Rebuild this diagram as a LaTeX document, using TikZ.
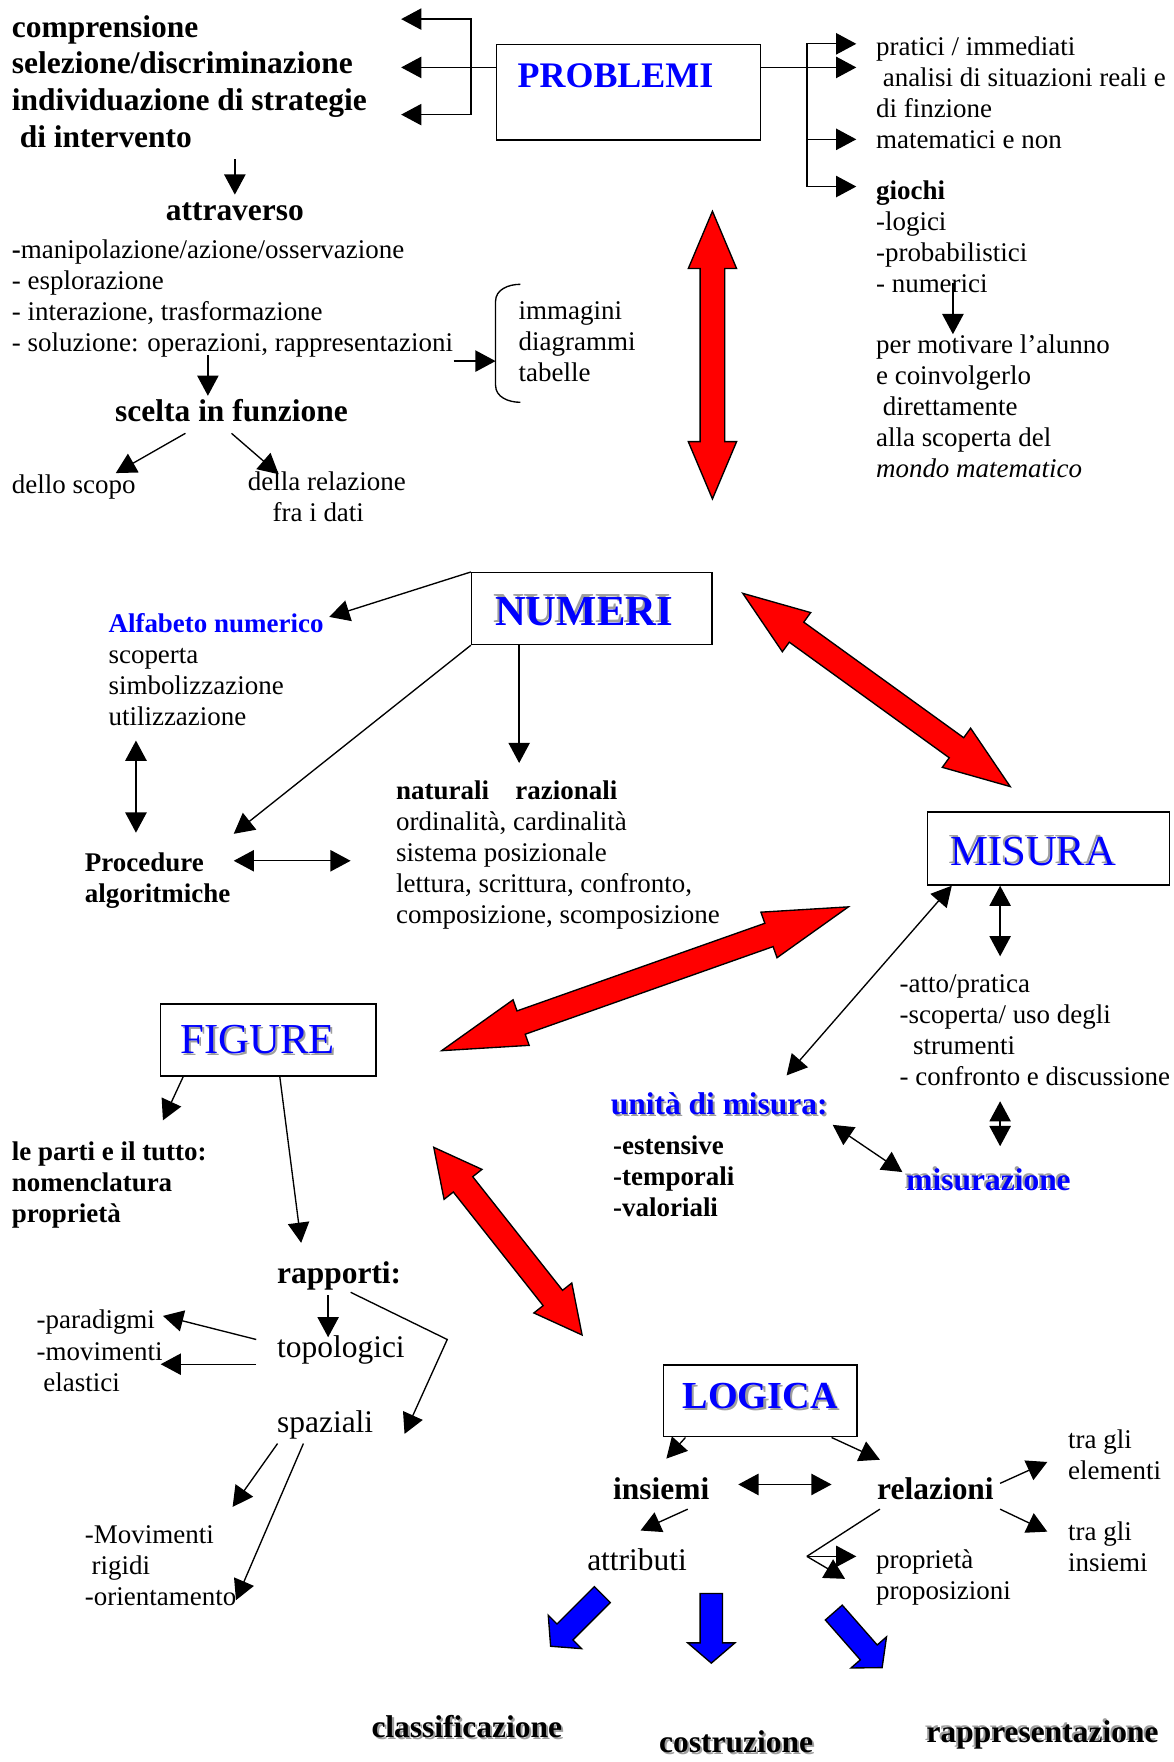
\documentclass[tikz,border=0pt]{standalone}
\usepackage{fontspec}
\setmainfont{Liberation Serif}
\usetikzlibrary{arrows.meta}

\definecolor{shadowgray}{gray}{0.62}
\newcommand\shad[2][0.9pt]{\makebox[0pt][l]{\hspace{#1}\raisebox{-#1}{\textcolor{shadowgray}{#2}}}#2}

\newcommand\twoway[5]{%
  \pgfmathsetmacro\fatang{atan2(#2-#4,#3-#1)}%
  \pgfmathsetmacro\fatlen{veclen(#3-#1,#4-#2)}%
  \begin{scope}[shift={(#1,#2)}, rotate=\fatang, y=0.5pt]
    \draw[redarrow] (0,0) -- (#5,21.5) -- (#5,11) -- (\fatlen-#5,11) -- (\fatlen-#5,21.5) -- (\fatlen,0)
      -- (\fatlen-#5,-21.5) -- (\fatlen-#5,-11) -- (#5,-11) -- (#5,-21.5) -- cycle;
  \end{scope}}
\newcommand\oneway[4]{%
  \pgfmathsetmacro\fatang{atan2(#2-#4,#3-#1)}%
  \pgfmathsetmacro\fatlen{veclen(#3-#1,#4-#2)}%
  \begin{scope}[shift={(#1,#2)}, rotate=\fatang, y=0.5pt]
    \draw[bluearrow] (0,10) -- (\fatlen-18,10) -- (\fatlen-18,21) -- (\fatlen,0)
      -- (\fatlen-18,-21) -- (\fatlen-18,-10) -- (0,-10) -- cycle;
  \end{scope}}

\begin{document}
\begin{tikzpicture}[x=0.5pt, y=-0.5pt, line width=0.6pt, >={Triangle[length=9pt,width=9.5pt]},
  txt/.style={font=\fontsize{12}{13.8}\selectfont, inner sep=0pt, align=left, anchor=north west, yshift=4.3pt, execute at begin node=\strut},
  txtb/.style={txt, font=\bfseries\fontsize{12}{13.8}\selectfont},
  bigtxt/.style={font=\fontsize{14}{16.1}\selectfont, inner sep=0pt, align=left, anchor=north west, yshift=6.9pt, execute at begin node=\strut},
  bigbold/.style={bigtxt, font=\bfseries\fontsize{14}{16.1}\selectfont},
  topicbox/.style={shape=rectangle, draw, inner ysep=0pt, align=left, anchor=north west, text=blue},
  redarrow/.style={fill=red, draw=black, line width=0.6pt},
  bluearrow/.style={fill=blue, draw=black, line width=0.6pt}]
\useasboundingbox (0,0) rectangle (1044,1568);

\node[topicbox, font=\bfseries\fontsize{16}{19}\selectfont, text width=98.5pt, inner xsep=9.5pt, text height=19.3pt, text depth=23.2pt] (problemi) at (441,39) {PROBLEMI};
\node[bigtxt, font=\bfseries\fontsize{14}{16.35}\selectfont, yshift=-1.9pt] (comp) at (10,23) {comprensione\\selezione/discriminazione\\individuazione di strategie\\\hspace*{3.5pt}di intervento};
\node[bigbold, anchor=north] (attrav) at (209,187) {attraverso};
\node[txt] (modi) at (10,221) {\textbf{-}manipolazione/azione/osservazione\\- esplorazione\\- interazione, trasformazione\\- soluzione: operazioni, rappresentazioni};
\node[txt] (immagini) at (461,276) {immagini\\diagrammi\\tabelle};
\node[bigbold, anchor=north] (scelta) at (206,366) {scelta in funzione};
\node[txt] (scopo) at (10,428) {dello scopo};
\node[txt] (relazione) at (220,428) {della relazione\\\hspace*{11pt}fra i dati};
\node[txt] (pratici) at (779,41) {pratici / immediati\\\hspace*{3pt}analisi di situazioni reali e\\di finzione\\matematici e non};
\node[txt] (giochi) at (779,169) {\textbf{giochi}\\-logici\\-probabilistici\\- numerici};
\node[txt] (motivare) at (779,306) {per motivare l’alunno\\e coinvolgerlo\\\hspace*{3pt}direttamente\\alla scoperta del\\\textit{mondo matematico}};

\node[topicbox, font=\bfseries\fontsize{19}{22}\selectfont, text width=86pt, inner xsep=10.5pt, text height=23.3pt, text depth=8.7pt] (numeri) at (419,509) {\shad[-0.9pt]{NUMERI}};
\node[txt] (alfabeto) at (96,554) {\textcolor{blue}{\textbf{Alfabeto numerico}}\\scoperta\\simbolizzazione\\utilizzazione};
\node[txtb] (procedure) at (75,767) {Procedure\\algoritmiche};
\node[txt] (naturali) at (352,703) {\textbf{naturali\hspace{11.7pt}razionali}\\ordinalità, cardinalità\\sistema posizionale\\lettura, scrittura, confronto,\\composizione, scomposizione};

\node[topicbox, font=\fontsize{19}{22}\selectfont, text width=87.5pt, inner xsep=10pt, text height=23.8pt, text depth=8.7pt] (misura) at (825,722) {\shad[-0.9pt]{MISURA}};
\node[txt] (atto) at (800,875) {-atto/pratica\\-scoperta/ uso degli\\\hspace*{6pt}strumenti\\- confronto e discussione};
\node[bigbold, text=blue] (unita) at (543,982) {\shad{unità di misura:}};
\node[txtb] (estensive) at (545,1019) {-estensive\\-temporali\\-valoriali};
\node[bigbold, text=blue] (misurazione) at (806,1050) {\shad[-0.9pt]{misurazione}};

\node[topicbox, font=\fontsize{19}{22}\selectfont, text width=78pt, inner xsep=9pt, text height=21.8pt, text depth=10.2pt] (figure) at (142,893) {\shad{FIGURE}};
\node[txtb] (parti) at (10,1024) {le parti e il tutto:\\nomenclatura\\proprietà};
\node[bigbold] (rapporti) at (246,1133) {rapporti:};
\node[bigtxt] (topologici) at (246,1199) {topologici};
\node[bigtxt] (spaziali) at (246,1265) {spaziali};
\node[txt] (paradigmi) at (32,1174) {-paradigmi\\-movimenti\\\hspace*{3pt}elastici};
\node[txt] (rigidi) at (75,1366) {-Movimenti\\\hspace*{3pt}rigidi\\-orientamento};

\node[topicbox, font=\bfseries\fontsize{17}{20}\selectfont, text width=69pt, inner xsep=8.5pt, text height=19.6pt, text depth=12.4pt] (logica) at (590,1214) {\shad{LOGICA}};
\node[bigbold] (insiemi) at (545,1325) {insiemi};
\node[bigbold] (relazioni) at (780,1325) {relazioni};
\node[txt] (elementi) at (950,1280) {tra gli\\elementi};
\node[txt] (trainsiemi) at (950,1362) {tra gli\\insiemi};
\node[bigtxt] (attributi) at (522,1388) {attributi};
\node[txt] (proprieta) at (779,1387) {proprietà\\proposizioni};
\node[bigbold] (classificazione) at (330,1537) {\shad{classificazione}};
\node[bigbold] (costruzione) at (586,1550) {\shad{costruzione}};
\node[bigbold] (rappresentazione) at (824,1541) {\shad[-0.9pt]{rappresentazione}};

\coordinate (lt1) at (357,17);
\coordinate (lt2) at (357,60);
\coordinate (lt3) at (357,102);
\coordinate (lbr) at (419,60);
\coordinate (rt1) at (762,39);
\coordinate (rt2) at (762,60);
\coordinate (rt3) at (762,124);
\coordinate (rt4) at (762,166);
\coordinate (rbr) at (718,60);
\coordinate (brace) at (441,316);
\coordinate (opdown) at (185,316);
\coordinate (scopotip) at (103,421);
\coordinate (relaztip) at (248,422);
\coordinate (mot) at (848,252);

\draw[<->] (lt1) -| (lbr |- lt3) -- (lt3);
\draw[->] (problemi.west |- lt2) -- (lt2);
\draw[<->] (rt1) -| (rbr |- rt4) -- (rt4);
\draw[->] (problemi.east |- rt2) -- (rt2);
\draw[->] (rbr |- rt3) -- (rt3);
\draw[->] (comp.south -| attrav.north) -- (attrav.north);
\draw[->] (modi.south east) -- (modi.south east -| brace);
\draw (463,253) to[out=180, in=90] (441,268) -- (441,343) to[out=-90, in=180] (463,358);
\draw[->] (opdown) -- (opdown |- scelta.north);
\draw[->] ([xshift=-20.5pt]scelta.south) -- (scopotip);
\draw[->] (scelta.south) -- (relaztip);
\draw[->] (mot) -- (mot |- motivare.north);

\coordinate (alfatip) at (293,549);
\coordinate (proctip) at (208,742);
\coordinate (nattip) at (462,679);
\coordinate (av1) at (121,659);
\coordinate (av2) at (121,741);
\coordinate (ph1) at (208,766);
\coordinate (ph2) at (312,766);

\draw[->] (numeri.north west) -- (alfatip);
\draw[->] (numeri.south west) -- (proctip);
\draw[->] (numeri.south -| nattip) -- (nattip);
\draw[<->] (av1) -- (av2);
\draw[<->] (ph1) -- (ph2);

\coordinate (unitip) at (700,957);
\coordinate (m1) at (890,851);
\coordinate (m2) at (890,980);
\coordinate (m3) at (890,1020);
\coordinate (u1) at (741,1001);
\coordinate (u2) at (803,1043);

\draw[<->] ([xshift=11pt]misura.south west) -- (unitip);
\draw[<->] (misura.south -| m1) -- (m1);
\draw[<->] (m2) -- (m3);
\draw[<->] (u1) -- (u2);

\coordinate (f1) at (145,997);
\coordinate (f2) at (268,1106);
\coordinate (topotip) at (292,1190);
\coordinate (sp1) at (312,1150);
\coordinate (sp2) at (398,1192);
\coordinate (sp3) at (360,1276);
\coordinate (t1) at (228,1192);
\coordinate (t2) at (145,1171);
\coordinate (t3) at (228,1214);
\coordinate (t4) at (143,1214);
\coordinate (s1) at (207,1341);
\coordinate (s2) at (210,1424);

\draw[->] ([xshift=10.5pt]figure.south west) -- (f1);
\draw[->] ([xshift=53.5pt]figure.south west) -- (f2);
\draw[->] (rapporti.south -| topotip) -- (topotip);
\draw[->] (sp1) -- (sp2) -- (sp3);
\draw[->] (t1) -- (t2);
\draw[->] (t3) -- (t4);
\draw[->] ([xshift=0.5pt]spaziali.south west) -- (s1);
\draw[->] ([xshift=12pt]spaziali.south west) -- (s2);

\coordinate (l1) at (593,1298);
\coordinate (l2) at (783,1299);
\coordinate (ir1) at (657,1321);
\coordinate (ir2) at (740,1321);
\coordinate (re1) at (890,1320);
\coordinate (re2) at (932,1301);
\coordinate (re3) at (890,1343);
\coordinate (re4) at (932,1363);
\coordinate (ia1) at (612,1343);
\coordinate (ia2) at (570,1362);
\coordinate (rp1) at (783,1343);
\coordinate (rp2) at (718,1385);
\coordinate (rp3) at (762,1385);
\coordinate (rp4) at (752,1405);

\draw[->] ([xshift=10pt]logica.south west) -- (l1);
\draw[->] ([xshift=75pt]logica.south west) -- (l2);
\draw[<->] (ir1) -- (ir2);
\draw[->] (re1) -- (re2);
\draw[->] (re3) -- (re4);
\draw[->] (ia1) -- (ia2);
\draw (rp1) -- (rp2);
\draw[->] (rp2) -- (rp3);
\draw[->] (rp2) -- (rp4);

\twoway{634}{188}{634}{444}{51}
\twoway{661}{528}{899}{700}{59}
\twoway{755}{807}{393}{935}{75}
\twoway{386}{1021}{518}{1188}{42}
\oneway{536}{1419}{490}{1465}
\oneway{633}{1418}{633}{1480}
\oneway{742}{1435}{785}{1484}
\end{tikzpicture}
\end{document}
